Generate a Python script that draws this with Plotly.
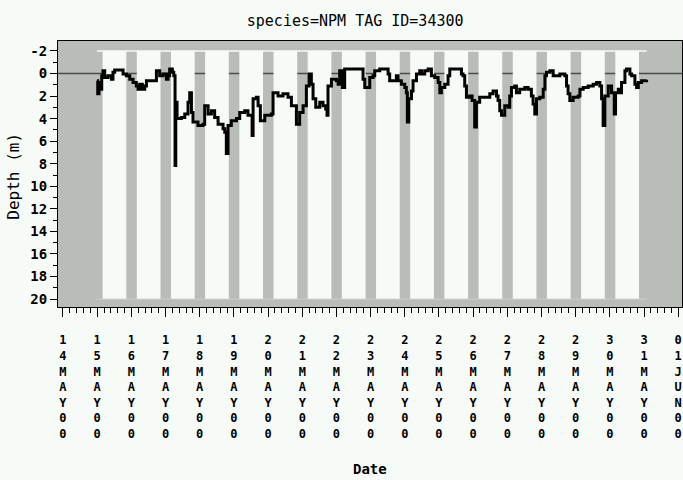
import plotly.graph_objects as go
import pandas as pd

title_text = "species=NPM TAG ID=34300"

# hours since 2000-05-14 00:00 and depth (m)
hours = [23.9, 24.4, 25.3, 26.2, 27.2, 28.1, 29.3, 31.6, 34.0, 35.1, 36.3, 41.0, 42.2, 44.5,
         46.9, 49.2, 51.5, 52.7, 53.9, 55.7, 57.4, 58.6, 64.4, 65.6, 67.9, 70.3, 72.6, 73.8,
         74.9, 76.8, 77.8, 78.7, 79.2, 80.1, 83.1, 85.5, 87.8, 89.0, 90.2, 91.3, 94.8, 98.3,
         99.5, 101.9, 104.2, 106.5, 108.9, 112.4, 113.6, 114.7, 115.9, 118.2, 121.8, 124.1,
         127.6, 129.9, 132.8, 133.5, 135.8, 137.0, 138.6, 141.7, 146.3, 147.5, 151.0, 154.5,
         158.0, 160.4, 163.9, 166.2, 168.6, 170.9, 172.8, 174.4, 175.6, 177.5, 180.3, 182.6,
         184.5, 185.4, 186.1, 188.5, 192.0, 193.2, 194.3, 196.2, 197.8, 209.5, 210.7, 211.9,
         213.0, 215.4, 217.7, 218.9, 222.4, 227.1, 228.3, 229.4, 234.1, 235.3, 237.6, 240.0,
         241.1, 241.8, 242.8, 244.7, 245.8, 248.2, 250.5, 251.7, 254.0, 256.4, 258.7, 261.0,
         263.4, 264.6, 265.7, 268.1, 270.4, 271.6, 278.6, 279.8, 280.9, 282.1, 283.3, 285.6,
         287.3, 289.1, 290.3, 292.6, 296.2, 299.7, 302.0, 304.4, 305.5, 306.7, 307.9, 310.2,
         312.6, 313.7, 314.9, 317.2, 318.4, 320.7, 324.3, 326.6, 328.9, 330.1, 331.3, 332.5,
         334.8, 337.2, 338.4, 339.5, 341.9, 344.2, 346.6, 348.9, 352.4, 353.6, 354.7, 355.9,
         358.2, 361.8, 363.0, 365.3, 368.8, 372.3, 374.7, 377.0, 378.2, 379.3, 380.5, 382.9,
         385.2, 387.1, 388.0, 389.9, 391.1, 392.2, 394.6, 395.7, 398.1, 399.3, 401.6, 402.8,
         404.0, 406.3, 409.8]
depth = [0.65, 1.8, 0.8, 1.4, 0.2, -0.25, 0.35, 0.2, 0.5, -0.1, -0.3, -0.3, 0.05, 0.2,
         0.5, 0.8, 1.1, 1.4, 0.95, 1.4, 1.1, 0.65, 0.65, -0.25, 0.2, 0.05, 0.5, 0.2,
         -0.4, -0.1, 0.2, 8.15, 2.55, 4.0, 3.9, 3.6, 2.55, 1.7, 3.45, 4.3, 4.6, 4.5,
         2.85, 3.6, 3.3, 3.9, 4.5, 4.9, 5.2, 7.1, 4.6, 4.2, 4.0, 3.45,
         3.3, 3.7, 5.5, 2.25, 2.1, 2.85, 4.2, 3.7, 3.6, 1.7, 2.0, 1.8,
         2.1, 2.85, 4.5, 3.45, 2.85, 1.1, 0.05, 0.95, 2.25, 3.0, 2.55, 2.85,
         3.15, 3.7, 1.1, 0.5, 0.65, 0.95, -0.25, 1.25, -0.4, -0.4, 0.5, 1.25,
         1.25, 0.35, 0.2, -0.25, -0.4, -0.4, 0.05, 0.65, 0.2, 0.65, 0.95, 1.25,
         1.7, 4.3, 2.25, 1.55, 0.65, 0.05, -0.25, 0.05, -0.25, -0.4, 0.2, 0.35,
         0.8, 1.7, 1.25, 0.95, 0.2, -0.4, -0.4, 0.05, 0.2, 1.1, 2.1, 2.0,
         2.4, 4.75, 2.55, 2.1, 2.1, 1.8, 1.55, 2.0, 2.4, 3.3, 3.7, 2.85,
         3.0, 2.0, 1.25, 1.1, 1.7, 1.4, 1.25, 1.4, 2.0, 2.7, 3.6, 2.25,
         2.1, 1.4, 0.2, -0.1, -0.25, 0.2, 0.2, 0.05, 0.2, 1.1, 1.8, 2.4,
         2.1, 2.0, 1.4, 1.25, 1.1, 0.95, 0.8, 1.1, 2.25, 4.6, 2.0, 1.1,
         1.7, 3.6, 1.7, 1.4, 1.7, 0.8, -0.25, -0.4, 0.05, 0.2, 0.95, 1.25,
         0.8, 0.65, 0.55]

day_dates = ["2000-05-15", "2000-05-16", "2000-05-17", "2000-05-18", "2000-05-19",
             "2000-05-20", "2000-05-21", "2000-05-22", "2000-05-23", "2000-05-24",
             "2000-05-25", "2000-05-26", "2000-05-27", "2000-05-28", "2000-05-29",
             "2000-05-30"]
sunrise = "03:50"
sunset = "20:28"

tick_dates = ["2000-05-14", "2000-05-15", "2000-05-16", "2000-05-17", "2000-05-18",
              "2000-05-19", "2000-05-20", "2000-05-21", "2000-05-22", "2000-05-23",
              "2000-05-24", "2000-05-25", "2000-05-26", "2000-05-27", "2000-05-28",
              "2000-05-29", "2000-05-30", "2000-05-31", "2000-06-01"]
tick_labels = ["14MAY00", "15MAY00", "16MAY00", "17MAY00", "18MAY00", "19MAY00",
               "20MAY00", "21MAY00", "22MAY00", "23MAY00", "24MAY00", "25MAY00",
               "26MAY00", "27MAY00", "28MAY00", "29MAY00", "30MAY00", "31MAY00",
               "01JUN00"]
y_ticks = [-2, 0, 2, 4, 6, 8, 10, 12, 14, 16, 18, 20]

BG = "#f7fbf7"
GRAY = "#b8bdb8"
MONO = "DejaVu Sans Mono"

base = pd.Timestamp("2000-05-14")
times = base + pd.to_timedelta(hours, unit="h")

fig = go.Figure()
fig.add_trace(go.Scatter(x=times, y=depth, mode="lines", line=dict(color="black", width=3, shape="hv"),
                         hoverinfo="skip", showlegend=False))

shapes = []
shapes.append(dict(type="line", xref="paper", x0=0, x1=1, yref="y", y0=0, y1=0,
                   line=dict(color="#4a4e4a", width=1.5), layer="below"))
for d in day_dates:
    shapes.append(dict(type="rect", xref="x", yref="y", x0=f"{d} {sunrise}", x1=f"{d} {sunset}",
                       y0=-2, y1=20, fillcolor=BG, line=dict(width=0), layer="below"))
shapes.append(dict(type="line", xref="x", yref="y", x0=times[0], x1=times[-1], y0=-2, y1=-2,
                   line=dict(color=BG, width=1.5), layer="below"))
shapes.append(dict(type="line", xref="x", yref="y", x0=times[0], x1=times[-1], y0=20, y1=20,
                   line=dict(color="#cdd1cd", width=1), layer="below"))

fig.update_layout(
    width=683, height=480,
    margin=dict(l=58, r=1, t=41, b=173),
    paper_bgcolor=BG, plot_bgcolor=GRAY,
    shapes=shapes,
    title=dict(text=title_text, x=0.52, xanchor="center", y=1 - 20.5 / 480, yanchor="middle",
               font=dict(family=MONO, size=15, color="black")),
    annotations=[
        dict(text="Date", xref="paper", yref="paper", x=0.5, y=(307.3 - 469) / 266,
             xanchor="center", yanchor="middle", showarrow=False,
             font=dict(family=MONO, size=14, color="black", weight="bold")),
        dict(text="Depth (m)", xref="paper", yref="paper", x=(14 - 58) / 624, y=0.49,
             xanchor="center", yanchor="middle", showarrow=False, textangle=-90,
             font=dict(family=MONO, size=16, color="black")),
    ],
)

fig.update_xaxes(
    type="date",
    range=["2000-05-13 20:30", "2000-06-01 02:40"],
    tickvals=tick_dates,
    ticktext=["<br>".join(s) for s in tick_labels],
    tickfont=dict(family=MONO, size=12, color="black", weight="bold"),
    ticks="outside", ticklen=9, tickwidth=1, tickcolor="black",
    ticklabelstandoff=13,
    minor=dict(ticks="outside", ticklen=5, tickwidth=1, tickcolor="black",
               dtick=86400000 / 5, tick0="2000-05-14", showgrid=False),
    showgrid=False, zeroline=False,
    showline=True, linecolor="black", linewidth=1, mirror=True,
)
fig.update_yaxes(
    range=[20.7, -2.88],
    tickvals=y_ticks,
    ticktext=[str(v) for v in y_ticks],
    tickfont=dict(family=MONO, size=14, color="black", weight="bold"),
    ticks="outside", ticklen=7, tickwidth=1, tickcolor="black",
    minor=dict(ticks="outside", ticklen=4, tickwidth=1, tickcolor="black", dtick=1, tick0=0,
               showgrid=False),
    showgrid=False, zeroline=False,
    showline=True, linecolor="black", linewidth=1, mirror=True,
)

fig.write_html("out.html")
